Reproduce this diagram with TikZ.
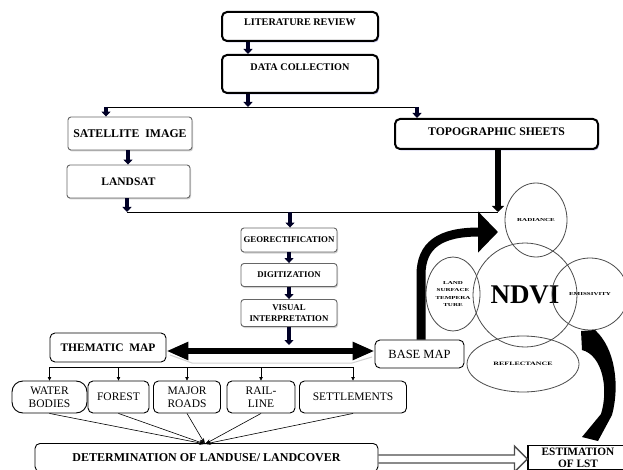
\documentclass[tikz,border=0pt]{standalone}
\usepackage{fontspec}
\usepackage{graphicx}
\setmainfont{Liberation Serif}
\usetikzlibrary{arrows.meta,shadows,shapes.geometric,calc}
\newcommand\sqz[1]{\scalebox{1}[0.65]{#1}}
\begin{document}
\begin{tikzpicture}[x=1pt,y=-1pt,
  tbox/.style={draw, line width=2pt, rounded corners=5pt, fill=white, inner sep=0pt,
     drop shadow={shadow xshift=1.2pt, shadow yshift=-1.5pt, fill=blue!40!gray, opacity=0.4},
     font=\bfseries\fontsize{10.2}{11}\selectfont},
  gbox/.style={draw=black!60, line width=0.9pt, rounded corners=3pt, fill=white, inner sep=0pt, align=center,
     drop shadow={shadow xshift=1pt, shadow yshift=-1.5pt, fill=gray, opacity=0.35}},
  bbox/.style={draw, line width=0.9pt, rounded corners=5pt, fill=white, inner sep=0pt, align=center},
  blk/.style={draw=black!85!blue, line width=3.5pt, -{Triangle[width=9pt,length=5pt]}},
  conn/.style={draw, line width=0.9pt},
  smallarr/.style={draw, line width=0.7pt, -{Triangle[width=3.5pt,length=3.5pt]}},
  convarr/.style={draw, line width=0.6pt, -{Stealth[width=4pt,length=6pt]}},
  circ/.style={draw=black!70, line width=0.8pt, ellipse, inner sep=0pt, align=center},
]
\useasboundingbox (0,0) rectangle (623,470);
\fill[white] (0,0) rectangle (623,470);
\clip (0,0) rectangle (623,470);

% boxes
\node[tbox, minimum width=156pt, minimum height=29pt, text depth=8pt] (lr) at (300,26.5) {LITERATURE REVIEW};
\node[tbox, minimum width=156pt, minimum height=38pt, text depth=14pt] (dc) at (300,74) {DATA COLLECTION};
\node[gbox, minimum width=124pt, minimum height=33pt, font=\bfseries\fontsize{11.8}{13}\selectfont] (sat) at (130,133.5) {SATELLITE\ \ IMAGE};
\node[gbox, minimum width=123pt, minimum height=33pt, font=\bfseries\fontsize{11.5}{13}\selectfont] (lan) at (128.5,181.5) {LANDSAT};
\node[tbox, minimum width=203pt, minimum height=30pt, text depth=5pt, font=\bfseries\fontsize{11.7}{13}\selectfont] (topo) at (496.5,134) {TOPOGRAPHIC SHEETS};
\node[gbox, minimum width=96pt, minimum height=24pt, font=\bfseries\fontsize{8.8}{10}\selectfont] (geo) at (289,240) {GEORECTIFICATION};
\node[gbox, minimum width=96pt, minimum height=23pt, font=\bfseries\fontsize{8.8}{10}\selectfont] (dig) at (289,275) {DIGITIZATION};
\node[gbox, minimum width=96pt, minimum height=27pt, font=\bfseries\fontsize{8.8}{10.5}\selectfont] (vis) at (289,313) {VISUAL\\INTERPRETATION};
\node[bbox, minimum width=116pt, minimum height=29pt, font=\bfseries\fontsize{11.5}{13}\selectfont] (them) at (108,347.5) {THEMATIC\ \ MAP};
\node[bbox, minimum width=89pt, minimum height=28pt, font=\fontsize{12.5}{14}\selectfont] (base) at (419.5,354) {BASE MAP};

\node[bbox, rounded corners=11pt, minimum width=75pt, minimum height=32pt, font=\fontsize{11.5}{13}\selectfont] (wb) at (49.5,397) {WATER\\BODIES};
\node[bbox, minimum width=61pt, minimum height=32pt, font=\fontsize{11.5}{13}\selectfont] (fo) at (118.5,397) {FOREST};
\node[bbox, minimum width=67pt, minimum height=32pt, font=\fontsize{11.5}{13}\selectfont] (mr) at (187,397) {MAJOR\\ROADS};
\node[bbox, minimum width=68pt, minimum height=32pt, font=\fontsize{11.5}{13}\selectfont] (rl) at (261,397) {RAIL-\\LINE};
\node[bbox, minimum width=107pt, minimum height=32pt, font=\fontsize{11.5}{13}\selectfont] (st) at (353,397) {SETTLEMENTS};

\node[bbox, anchor=north, minimum width=343pt, inner ysep=10pt, font=\bfseries\fontsize{12}{14}\selectfont] (det) at (206.5,443) {DETERMINATION OF LANDUSE/ LANDCOVER};
\node[draw, line width=1.2pt, fill=white, anchor=north, minimum width=100pt, inner xsep=0pt, inner ysep=2pt, align=center, font=\bfseries\fontsize{11.3}{12.3}\selectfont] (est) at (578,445) {ESTIMATION\\OF LST};

% circles
\node[circ, minimum width=104pt, minimum height=104pt, font=\bfseries\fontsize{27}{27}\selectfont] (ndvi) at (525,295) {NDVI};
\node[circ, minimum width=62pt, minimum height=74pt, font=\bfseries\fontsize{7}{8}\selectfont] (rad) at (536,220) {\sqz{RADIANCE}};
\node[circ, minimum width=76pt, minimum height=72pt, font=\bfseries\fontsize{7}{8}\selectfont] (emi) at (590,294) {\sqz{EMISSIVITY}};
\node[circ, minimum width=54pt, minimum height=74pt, font=\bfseries\fontsize{7}{7.5}\selectfont] (lst) at (453,294) {\sqz{LAND}\\\sqz{SURFACE}\\\sqz{TEMPERA}\\\sqz{TURE}};
\node[circ, minimum width=112pt, minimum height=56pt, font=\bfseries\fontsize{7.9}{9}\selectfont] (ref) at (523,364) {\sqz{REFLECTANCE}};

% top connectors
\coordinate (j0) at (248,107);
\coordinate (hl) at (106,107);
\coordinate (hr) at (417,107);
\draw[blk] (lr.south -| j0) -- (dc.north -| j0);
\draw[blk] (dc.south -| j0) -- (j0);
\draw[conn] (hl) -- (hr);
\draw[blk] (hl) -- (sat.north -| hl);
\draw[blk] (hr) -- (topo.north -| hr);

\coordinate (j1) at (128,0);
\draw[blk] (sat.south -| j1) -- (lan.north -| j1);
\coordinate (ll) at (127,212);
\coordinate (lrr) at (498,212);
\coordinate (lg) at (290,212);
\draw[blk] (lan.south -| ll) -- (ll);
\draw[conn] (ll) -- (lrr);
\draw[draw=black, line width=5.5pt, -{Triangle[width=12pt,length=6pt]}] (topo.south -| lrr) -- (lrr);
\draw[blk] (lg) -- (geo.north -| lg);
\draw[blk] (geo.south) -- (dig.north);
\draw[blk] (dig.south) -- (vis.north);
\coordinate (dv) at (289,345);
\draw[blk] (vis.south) -- (dv);

% double arrow thematic <-> base
\coordinate (da) at (0,351);
\draw[gray!35, line width=1pt] (170,355) -- (192,363) -- (352,363) -- (372,357);
\draw[line width=6.5pt, {Triangle[width=17pt,length=22pt]}-{Triangle[width=17pt,length=22pt]}] (them.east |- da) -- (base.west |- da);

% thematic distribution
\coordinate (t0) at (50,367);
\draw[conn, line width=0.7pt] (wb.north |- t0) -- (st.north |- t0);
\foreach \n in {wb,fo,mr,rl,st} \draw[smallarr] (\n.north |- t0) -- (\n.north);

% convergence
\coordinate (cv) at (205,444);
\foreach \n in {wb,fo,mr,rl,st} \draw[convarr] (\n.south) -- (cv);

% hollow arrow det -> est
\coordinate (ha) at (0,459);
\draw[draw=black!70, line width=1.3pt, line join=miter]
  ($(det.east|-ha)+(0,-4)$) -- ($(est.west|-ha)+(-13,-4)$) -- ++(0,-9) -- (est.west|-ha)
  -- ++(-13,13) -- ++(0,-9) -- ($(det.east|-ha)+(0,4)$);

% curved arrow base -> ndvi group
\coordinate (cb) at (421,0);
\coordinate (ca) at (498,232);
\draw[line width=9pt, -{Triangle[width=40pt,length=20pt]}] (base.north -| cb) -- (421,275) .. controls (421,245) and (440,232) .. (ca);

% tapered curved arrow emissivity -> estimation
\fill (581,331) -- (595,330) .. controls (615,348) and (620,385) .. (612,415) -- (598,441) -- (582,437) -- (601,414) .. controls (609,388) and (602,355) .. (582,350) -- cycle;

\end{tikzpicture}
\end{document}
